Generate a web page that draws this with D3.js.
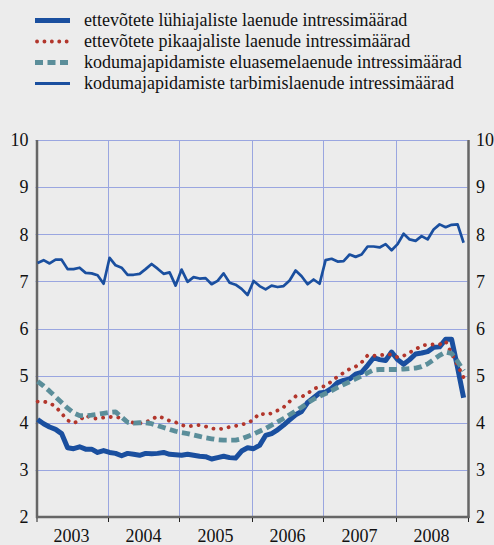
<!DOCTYPE html>
<html><head><meta charset="utf-8">
<script src="https://cdn.jsdelivr.net/npm/d3@7"></script>
<style>html,body{margin:0;padding:0;background:#ececec;}svg{display:block;}
text{font-family:"Liberation Serif","Times New Roman",Times,serif;}</style>
</head><body>
<script>
const years = ["2003","2004","2005","2006","2007","2008"];
const yTicks = [2,3,4,5,6,7,8,9,10];
const seriesNames = [
  "ettevõtete lühiajaliste laenude intressimäärad",
  "ettevõtete pikaajaliste laenude intressimäärad",
  "kodumajapidamiste eluasemelaenude intressimäärad",
  "kodumajapidamiste tarbimislaenude intressimäärad"
];
// monthly values Jan 2003 - Dec 2008
const shortBusiness = [
  4.07,3.98,3.91,3.86,3.77,3.47,3.45,3.49,3.44,3.44,3.37,3.41,
  3.37,3.35,3.30,3.35,3.33,3.31,3.35,3.34,3.35,3.37,3.33,3.32,
  3.31,3.33,3.31,3.29,3.28,3.23,3.26,3.29,3.26,3.25,3.40,3.47,
  3.45,3.52,3.73,3.77,3.85,3.95,4.06,4.17,4.24,4.43,4.53,4.63,
  4.65,4.73,4.85,4.90,4.93,5.03,5.07,5.22,5.38,5.34,5.32,5.50,
  5.34,5.24,5.34,5.46,5.48,5.51,5.60,5.61,5.77,5.77,5.17,4.53
];
const longBusiness = [
  4.45,4.45,4.42,4.34,4.20,4.05,3.99,4.05,4.16,4.09,4.09,4.11,
  4.12,4.13,4.09,4.03,4.00,3.99,4.01,4.07,4.14,4.10,4.04,4.01,
  3.95,3.92,3.94,3.95,3.92,3.88,3.86,3.88,3.91,3.93,3.96,3.99,
  4.07,4.20,4.17,4.20,4.26,4.33,4.45,4.56,4.55,4.62,4.72,4.76,
  4.78,4.88,4.98,5.06,5.14,5.19,5.28,5.43,5.42,5.43,5.45,5.45,
  5.39,5.42,5.49,5.56,5.63,5.66,5.66,5.66,5.73,5.47,5.22,4.96
];
const housing = [
  4.88,4.78,4.67,4.55,4.43,4.31,4.21,4.15,4.15,4.16,4.18,4.20,
  4.22,4.23,4.12,4.01,3.99,4.00,4.00,3.98,3.94,3.90,3.86,3.82,
  3.79,3.77,3.74,3.71,3.68,3.66,3.64,3.63,3.63,3.63,3.66,3.71,
  3.76,3.82,3.88,3.95,4.02,4.09,4.17,4.25,4.33,4.42,4.50,4.56,
  4.62,4.68,4.75,4.81,4.87,4.93,4.99,5.06,5.12,5.13,5.13,5.13,
  5.13,5.14,5.15,5.16,5.19,5.25,5.34,5.43,5.50,5.47,5.30,5.10
];
const consumer = [
  7.39,7.45,7.38,7.46,7.46,7.26,7.26,7.29,7.18,7.17,7.13,6.95,
  7.50,7.34,7.29,7.14,7.14,7.16,7.26,7.37,7.27,7.16,7.19,6.91,
  7.25,6.99,7.09,7.06,7.07,6.94,7.01,7.17,6.97,6.93,6.84,6.71,
  7.01,6.90,6.83,6.91,6.88,6.90,7.02,7.23,7.11,6.94,7.04,6.95,
  7.45,7.48,7.42,7.43,7.57,7.52,7.57,7.74,7.74,7.72,7.79,7.66,
  7.79,8.01,7.89,7.86,7.96,7.89,8.10,8.21,8.15,8.20,8.21,7.82
];

const W = 494, H = 545;
const svg = d3.select("body").append("svg").attr("width", W).attr("height", H);
svg.append("rect").attr("width", W).attr("height", H).attr("fill", "#ececec");

const pLeft = 35.5, pRight = 467.5, pTop = 140, pBottom = 517;
const x = d3.scaleLinear().domain([0, 72]).range([pLeft, pRight]);
const y = d3.scaleLinear().domain([2, 10]).range([pBottom, pTop]);

// grid
const grid = svg.append("g").attr("stroke", "#9aa6e0").attr("stroke-width", 1);
yTicks.filter(d => d > 2).forEach(d => {
  grid.append("line").attr("x1", pLeft).attr("x2", pRight)
    .attr("y1", Math.round(y(d)) + 0.5).attr("y2", Math.round(y(d)) + 0.5);
});
years.slice(1).forEach((yr, i) => {
  const xx = Math.round(x((i + 1) * 12)) + 0.5;
  grid.append("line").attr("x1", xx).attr("x2", xx).attr("y1", pTop).attr("y2", pBottom);
});

// axes
const axisColor = "#666666";
svg.append("line").attr("x1", 37).attr("x2", 37).attr("y1", pTop).attr("y2", pBottom + 1)
  .attr("stroke", axisColor).attr("stroke-width", 2.5);
svg.append("line").attr("x1", 468.5).attr("x2", 468.5).attr("y1", pTop).attr("y2", pBottom + 1)
  .attr("stroke", axisColor).attr("stroke-width", 2.5);
svg.append("line").attr("x1", 36).attr("x2", 469.5).attr("y1", pBottom).attr("y2", pBottom)
  .attr("stroke", axisColor).attr("stroke-width", 2.5);
d3.range(0, 7).forEach(k => {
  const xx = k === 0 ? 37 : (k === 6 ? 468.5 : Math.round(x(k * 12)) + 0.5);
  svg.append("line").attr("x1", xx).attr("x2", xx).attr("y1", pBottom + 1).attr("y2", pBottom + 5)
    .attr("stroke", "#222").attr("stroke-width", 1);
});

// y labels
const yl = svg.append("g").attr("font-size", 18).attr("fill", "#111");
yTicks.forEach(d => {
  yl.append("text").attr("x", 28.5).attr("y", y(d)).attr("dy", "0.35em")
    .attr("text-anchor", "end").text(d);
  yl.append("text").attr("x", 476).attr("y", y(d)).attr("dy", "0.35em")
    .attr("text-anchor", "start").text(d);
});
// year labels
years.forEach((yr, i) => {
  yl.append("text").attr("x", x(i * 12 + 6)).attr("y", 542)
    .attr("text-anchor", "middle").text(yr);
});

// series
const line = d3.line().x((d, i) => x(i + 0.35)).y(d => y(d));
const styles = [
  {data: shortBusiness, color: "#1a4f9f", width: 5, dash: null, cap: "butt"},
  {data: longBusiness, color: "#b2362c", width: 3.8, dash: "0.1 7.6", cap: "round"},
  {data: housing, color: "#5b8e9a", width: 4.8, dash: "8 4.5", cap: "butt"},
  {data: consumer, color: "#1a4f9f", width: 2.7, dash: null, cap: "butt"}
];
styles.forEach(s => {
  svg.append("path").datum(s.data).attr("d", line)
    .attr("fill", "none").attr("stroke", s.color).attr("stroke-width", s.width)
    .attr("stroke-linejoin", "round").attr("stroke-linecap", s.cap)
    .attr("stroke-dasharray", s.dash);
});

// legend
const lg = svg.append("g").attr("font-size", 18).attr("fill", "#111");
const legendY = [20.5, 41.5, 62.5, 83.5];
styles.forEach((s, i) => {
  lg.append("line").attr("x1", 35).attr("x2", 70).attr("y1", legendY[i]).attr("y2", legendY[i])
    .attr("stroke", s.color).attr("stroke-width", i === 0 ? 5 : (i === 3 ? 3 : s.width))
    .attr("stroke-linecap", s.cap).attr("stroke-dasharray", i === 1 ? "0.1 7.3" : s.dash)
    .attr("transform", i === 1 ? "translate(2,0)" : null);
  lg.append("text").attr("x", 84).attr("y", legendY[i]).attr("dy", "0.33em").text(seriesNames[i]);
});
</script>
</body></html>
